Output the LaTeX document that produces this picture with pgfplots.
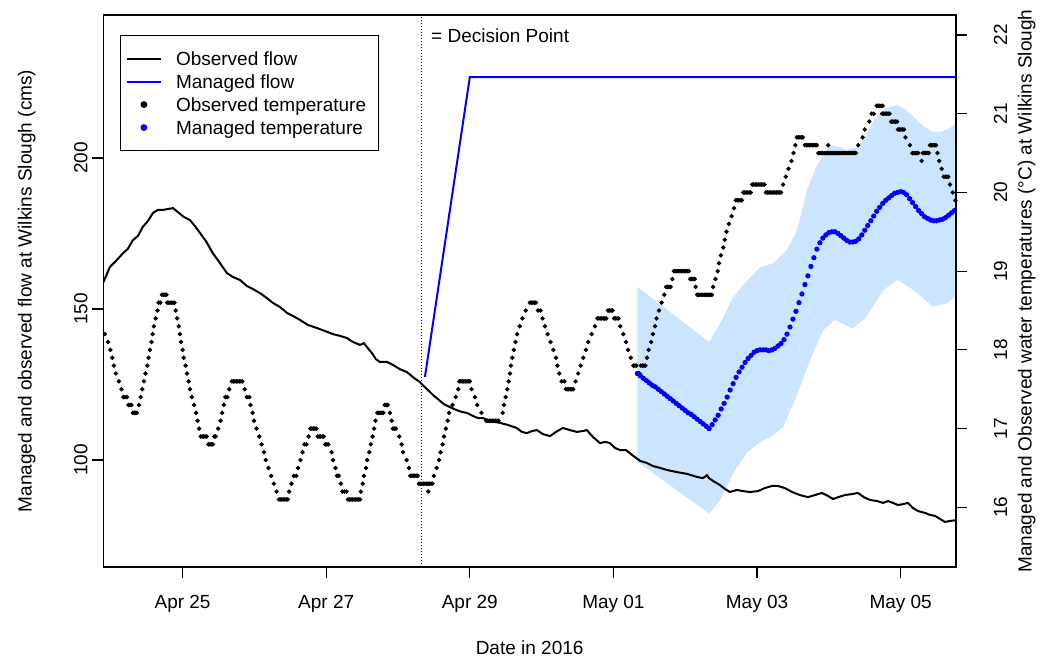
\documentclass[border=0pt]{standalone}
\usepackage{fontspec}
\setmainfont{Liberation Sans}
\usepackage{pgfplots}
\usepackage{pgfplotstable}
\pgfplotsset{compat=1.18}
\definecolor{bandcol}{RGB}{204,229,255}
\definecolor{rblue}{RGB}{0,0,255}

% observed flow (cms), x = hours since 2016-04-25 00:00
\pgfplotstableread{
h Q
-26.6 158.6
-24.3 163.9
-22.0 166.2
-19.9 168.5
-18.3 169.9
-16.6 172.8
-14.9 174.2
-13.3 177.2
-11.6 179.1
-9.9 181.8
-8.3 182.8
-6.6 182.8
-4.9 183.1
-3.2 183.4
-1.6 182.1
0.4 180.5
2.4 179.5
4.1 177.5
5.8 175.2
7.8 172.5
10.1 168.5
12.5 165.2
14.8 161.9
16.8 160.6
19.2 159.6
21.5 157.6
23.5 156.6
25.8 155.3
28.2 153.6
30.2 152.0
32.5 150.7
34.9 148.7
36.9 147.7
39.2 146.4
41.9 144.7
44.9 143.7
47.6 142.7
50.2 141.7
52.6 141.1
54.9 140.4
56.9 139.1
58.6 138.4
59.3 138.1
60.6 138.7
61.6 137.4
63.3 135.4
64.6 133.4
65.9 132.5
68.3 132.5
70.3 131.5
72.6 130.1
75.0 129.1
77.3 127.2
79.3 125.8
81.3 123.8
82.7 122.5
83.7 121.5
85.3 120.2
87.3 118.5
89.4 117.5
91.4 116.6
93.4 115.9
95.0 115.6
97.0 114.6
98.7 113.9
100.4 113.9
102.7 112.9
106.1 112.3
108.7 111.6
111.7 110.6
113.4 109.3
115.1 108.9
116.8 109.6
118.4 109.9
120.4 108.6
122.8 107.9
124.8 109.3
127.1 110.6
129.5 109.9
131.8 109.3
133.8 109.6
135.1 109.9
137.2 107.6
139.5 105.6
141.2 106.0
142.8 105.6
144.5 104.0
146.2 103.3
148.2 103.3
150.2 101.7
152.9 99.7
155.2 99.0
157.2 98.0
159.5 97.4
161.9 96.7
165.2 96.0
168.6 95.4
171.9 94.4
173.9 94.0
175.3 95.0
175.9 94.0
177.9 92.7
179.6 91.7
181.3 90.4
182.9 89.4
185.3 90.1
187.3 89.7
189.6 89.4
192.3 89.7
194.6 90.7
197.0 91.4
199.0 91.4
201.3 90.7
203.7 89.4
206.3 88.4
209.0 87.7
211.4 88.4
213.7 89.1
215.7 88.1
217.4 87.1
219.1 87.7
221.4 88.4
223.7 88.7
225.7 89.1
227.7 87.7
229.7 86.8
232.1 86.4
234.1 85.8
235.8 86.4
237.4 85.8
239.1 85.1
240.8 85.4
242.4 85.8
244.1 84.1
245.8 83.1
248.1 82.5
249.8 81.8
251.5 81.5
253.1 80.5
254.8 79.5
256.5 79.8
258.5 80.1
}\obsflow

% observed water temperature (degC)
\pgfplotstableread{
h T
-26.0 18.2
-24.9 18.1
-24.1 18.0
-23.5 17.9
-23.0 17.8
-22.3 17.7
-21.3 17.6
-20.4 17.5
-19.8 17.4
-19.3 17.4
-18.6 17.4
-18.1 17.3
-17.6 17.3
-17.1 17.3
-16.6 17.2
-16.1 17.2
-15.6 17.2
-15.3 17.2
-14.6 17.3
-14.0 17.4
-13.5 17.5
-12.9 17.6
-12.4 17.7
-11.8 17.8
-11.4 17.9
-10.9 18.0
-10.4 18.1
-10.0 18.2
-9.6 18.3
-9.0 18.4
-8.4 18.5
-8.0 18.6
-7.4 18.6
-6.9 18.7
-6.4 18.7
-5.9 18.7
-5.4 18.7
-5.2 18.6
-4.7 18.6
-4.2 18.6
-3.7 18.6
-3.2 18.6
-2.7 18.6
-2.3 18.5
-1.8 18.4
-1.3 18.3
-0.9 18.2
-0.5 18.1
0.0 18.0
0.4 17.9
1.0 17.8
1.5 17.7
2.0 17.6
2.5 17.5
3.1 17.4
3.8 17.3
4.5 17.2
5.0 17.1
5.5 17.0
6.1 16.9
6.6 16.9
7.1 16.9
7.6 16.9
8.1 16.9
8.6 16.8
9.1 16.8
9.6 16.8
10.1 16.8
10.6 16.9
11.1 16.9
11.9 17.0
12.7 17.1
13.2 17.2
13.8 17.3
14.3 17.4
15.0 17.4
15.6 17.5
16.5 17.6
17.0 17.6
17.5 17.6
18.0 17.6
18.5 17.6
19.0 17.6
19.5 17.6
20.0 17.6
20.8 17.5
21.5 17.4
22.3 17.4
22.7 17.3
23.4 17.2
23.9 17.1
24.7 17.0
25.6 16.9
26.4 16.8
27.2 16.7
27.8 16.6
28.7 16.5
29.6 16.4
30.5 16.3
31.4 16.2
32.2 16.1
32.7 16.1
33.2 16.1
33.7 16.1
34.2 16.1
34.7 16.1
35.2 16.1
35.6 16.2
36.4 16.3
37.2 16.4
38.0 16.4
38.6 16.5
39.4 16.6
40.1 16.7
40.7 16.8
41.4 16.8
42.1 16.9
42.7 17.0
43.2 17.0
43.7 17.0
44.2 17.0
44.7 17.0
45.2 16.9
45.7 16.9
46.2 16.9
46.7 16.9
47.2 16.9
47.7 16.8
48.2 16.8
48.7 16.8
49.8 16.7
50.3 16.6
51.1 16.5
51.6 16.4
52.2 16.4
52.9 16.3
53.4 16.2
54.1 16.2
54.8 16.2
55.3 16.1
55.8 16.1
56.3 16.1
56.8 16.1
57.3 16.1
57.8 16.1
58.3 16.1
58.8 16.1
59.3 16.1
59.6 16.2
60.2 16.3
60.6 16.4
61.3 16.5
61.7 16.6
62.4 16.7
62.9 16.8
63.5 16.9
64.0 17.0
64.5 17.1
65.1 17.2
65.6 17.2
66.1 17.2
66.6 17.2
67.1 17.2
67.6 17.3
68.1 17.3
68.6 17.3
69.3 17.2
69.9 17.1
70.3 17.0
70.8 17.0
71.3 17.0
72.4 16.9
73.2 16.8
73.7 16.7
74.9 16.6
75.7 16.5
76.1 16.4
76.6 16.4
77.1 16.4
77.6 16.4
78.1 16.4
78.6 16.4
79.0 16.3
79.5 16.3
80.0 16.3
80.5 16.3
81.0 16.3
81.5 16.3
82.0 16.3
82.1 16.2
82.5 16.3
83.0 16.3
83.5 16.3
84.0 16.4
84.9 16.5
85.7 16.6
86.2 16.7
86.9 16.8
87.4 16.9
88.0 17.0
88.6 17.1
89.1 17.2
90.2 17.3
91.3 17.4
92.1 17.5
92.5 17.6
93.0 17.6
93.5 17.6
94.0 17.6
94.5 17.6
95.0 17.6
95.5 17.6
96.0 17.6
96.6 17.5
97.7 17.4
98.5 17.3
99.9 17.2
101.5 17.1
102.0 17.1
102.5 17.1
103.0 17.1
103.5 17.1
104.0 17.1
104.6 17.1
105.1 17.1
105.6 17.1
107.0 17.2
107.4 17.3
108.0 17.4
108.5 17.5
109.0 17.6
109.4 17.7
109.7 17.8
110.2 17.9
110.7 18.0
111.3 18.1
111.8 18.2
112.7 18.3
113.6 18.4
114.7 18.5
116.1 18.6
116.6 18.6
117.1 18.6
117.6 18.6
118.1 18.6
118.8 18.5
119.6 18.5
120.3 18.4
121.1 18.3
122.0 18.2
123.0 18.1
123.9 18.0
124.8 17.9
125.3 17.8
125.9 17.7
126.7 17.6
127.6 17.6
128.1 17.5
128.6 17.5
129.1 17.5
129.6 17.5
130.1 17.5
130.6 17.5
131.4 17.6
132.2 17.7
133.0 17.8
133.9 17.9
134.8 18.0
135.6 18.1
136.7 18.2
137.8 18.3
138.6 18.4
139.1 18.4
139.6 18.4
140.1 18.4
140.6 18.4
141.1 18.4
141.6 18.4
142.2 18.5
142.7 18.5
143.2 18.5
143.7 18.5
144.2 18.4
144.7 18.4
145.2 18.4
145.7 18.4
146.3 18.3
147.3 18.2
148.2 18.1
148.9 18.0
149.8 17.9
150.7 17.8
151.2 17.8
151.7 17.8
152.2 17.7
152.7 17.7
153.2 17.8
153.7 17.8
154.2 17.8
154.7 17.8
155.2 17.9
155.8 18.0
156.6 18.1
157.2 18.2
157.9 18.3
158.4 18.4
159.2 18.5
160.1 18.6
161.0 18.7
161.6 18.8
162.1 18.8
162.6 18.8
163.1 18.8
163.7 18.9
164.2 19.0
164.7 19.0
165.2 19.0
165.7 19.0
166.2 19.0
166.7 19.0
167.2 19.0
167.7 19.0
168.2 19.0
168.7 19.0
169.2 19.0
169.7 18.9
170.2 18.9
170.7 18.9
171.2 18.9
171.5 18.8
172.0 18.7
172.4 18.7
172.9 18.7
173.4 18.7
173.9 18.7
174.4 18.7
174.9 18.7
175.4 18.7
175.9 18.7
176.4 18.7
176.9 18.7
177.3 18.8
178.1 18.9
178.8 19.0
179.3 19.1
179.9 19.2
180.7 19.3
181.2 19.4
181.8 19.5
182.6 19.6
183.5 19.7
184.3 19.8
184.9 19.9
185.4 19.9
185.9 19.9
186.4 19.9
186.9 19.9
187.4 20.0
187.9 20.0
188.4 20.0
188.9 20.0
189.4 20.0
189.9 20.0
190.4 20.1
190.9 20.1
191.4 20.1
191.9 20.1
192.4 20.1
193.0 20.1
193.5 20.1
194.0 20.1
194.5 20.1
195.0 20.0
195.5 20.0
196.0 20.0
196.5 20.0
197.0 20.0
197.5 20.0
198.0 20.0
198.5 20.0
199.0 20.0
199.5 20.0
200.0 20.0
200.7 20.1
201.6 20.2
202.5 20.3
203.5 20.4
204.2 20.5
204.8 20.6
205.3 20.7
205.8 20.7
206.3 20.7
206.8 20.7
207.3 20.7
208.0 20.6
208.5 20.6
209.0 20.6
209.5 20.6
210.0 20.6
210.5 20.6
211.0 20.6
211.5 20.6
212.0 20.6
212.5 20.5
213.0 20.5
213.5 20.5
214.0 20.5
214.5 20.5
215.0 20.5
215.5 20.5
216.0 20.5
216.5 20.5
217.0 20.5
217.5 20.5
218.0 20.5
218.5 20.5
219.0 20.5
219.5 20.5
220.0 20.5
220.5 20.5
221.0 20.5
221.5 20.5
222.0 20.5
222.5 20.5
223.0 20.5
223.5 20.5
224.0 20.5
224.5 20.5
225.0 20.5
215.8 20.6
225.8 20.6
227.3 20.7
228.0 20.8
229.5 20.9
230.3 21.0
231.0 21.0
232.0 21.1
232.5 21.1
233.0 21.1
233.5 21.1
234.0 21.1
233.8 21.0
234.3 21.0
234.8 21.0
235.3 21.0
235.8 21.0
236.3 21.0
236.8 20.9
237.3 20.9
237.8 20.9
238.3 20.9
238.8 20.9
239.1 20.8
239.6 20.8
240.1 20.8
240.6 20.8
241.1 20.8
241.6 20.7
243.1 20.6
243.9 20.5
244.4 20.5
244.9 20.5
245.4 20.5
245.9 20.5
247.0 20.4
247.4 20.5
247.9 20.5
248.4 20.5
248.9 20.5
249.4 20.5
249.8 20.6
250.3 20.6
250.8 20.6
251.3 20.6
251.8 20.6
252.3 20.5
252.9 20.4
253.7 20.3
254.4 20.2
254.9 20.2
255.4 20.2
255.9 20.2
256.5 20.1
257.4 20.0
258.3 19.9
}\obstemp

% managed water temperature (degC), hourly
\pgfplotstableread{
h T
152 17.70
153 17.67
154 17.64
155 17.61
156 17.58
157 17.55
158 17.53
159 17.50
160 17.47
161 17.44
162 17.41
163 17.38
164 17.35
165 17.32
166 17.29
167 17.26
168 17.23
169 17.20
170 17.18
171 17.15
172 17.12
173 17.09
174 17.06
175 17.03
176 17.00
177 17.05
178 17.11
179 17.17
180 17.25
181 17.32
182 17.40
183 17.49
184 17.57
185 17.65
186 17.72
187 17.78
188 17.84
189 17.89
190 17.93
191 17.97
192 17.99
193 18.00
194 18.00
195 18.00
196 17.99
197 18.00
198 18.02
199 18.05
200 18.08
201 18.13
202 18.20
203 18.29
204 18.39
205 18.49
206 18.60
207 18.71
208 18.83
209 18.94
210 19.06
211 19.17
212 19.28
213 19.36
214 19.42
215 19.46
216 19.49
217 19.50
218 19.50
219 19.48
220 19.45
221 19.42
222 19.39
223 19.37
224 19.37
225 19.38
226 19.41
227 19.46
228 19.52
229 19.58
230 19.64
231 19.70
232 19.76
233 19.81
234 19.86
235 19.90
236 19.93
237 19.96
238 19.99
239 20.00
240 20.01
241 20.00
242 19.97
243 19.92
244 19.87
245 19.82
246 19.77
247 19.73
248 19.69
249 19.67
250 19.65
251 19.64
252 19.64
253 19.65
254 19.66
255 19.68
256 19.71
257 19.74
258 19.77
}\mantemp

\pgfplotsset{
  base/.style={
    scale only axis, width=426.35pt, height=276pt,
    xmin=-26.5, xmax=258.5,
    tick align=outside, major tick length=5.5pt,
    tick style={black, line width=0.6pt},
    axis line style={black, line width=0.6pt},
    /pgf/number format/assume math mode=true,
    tick label style={font=\fontsize{9.5}{11.4}\selectfont},
    label style={font=\fontsize{9.5}{11.4}\selectfont},
  }
}

\begin{document}
\fontsize{9.5}{11.4}\selectfont
\begin{tikzpicture}
\useasboundingbox (-51.65pt,-45.5pt) rectangle (472.35pt,283.5pt);

% ---------------- temperature axis (right) ----------------
\begin{axis}[base,
  ymin=15.242, ymax=22.254,
  axis x line=none, axis y line*=right,
  y axis line style={-},
  ytick={16,17,18,19,20,21,22},
  yticklabel style={xshift=20pt, rotate=90, anchor=base},
  every axis y label/.style={at={(rel axis cs:1,0.5)}, xshift=37.85pt, rotate=90, anchor=base},
  ylabel={Managed and Observed water temperatures (°C) at Wilkins Slough},
]
\addplot[fill=bandcol, draw=none] coordinates {
(152,18.80) (176,18.10) (179.7,18.34) (184,18.67) (188.7,18.88) (193,19.05)
(197.4,19.10) (202,19.27) (205.4,19.52) (208.7,20.03) (212.1,20.35) (216.5,20.60)
(219.5,20.58) (222,20.54) (225.8,20.58) (229.3,20.80) (232,20.97) (235,21.07)
(238.5,21.11) (241,21.07) (243.6,20.99) (247,20.86) (250.5,20.77) (253.5,20.77)
(256.5,20.82) (258.5,20.88)
(258.5,18.68) (255.3,18.59) (250.8,18.55) (244.2,18.76) (239.1,18.89) (234.1,18.76)
(228.6,18.42) (224.1,18.27) (218,18.38) (214.1,18.25) (209.7,17.87) (205.2,17.41)
(200.7,17.02) (196.8,16.90) (193,16.83) (188.5,16.69) (184,16.43) (179.7,16.09)
(176,15.92) (152,16.58)
} -- cycle;
\addplot[only marks, mark=*, black, mark size=0.9pt, mark options={draw=none, fill=black}]
  table[x=h, y=T] {\obstemp};
\addplot[only marks, mark=*, rblue, mark size=1.1pt, mark options={draw=none, fill=rblue}]
  table[x=h, y=T] {\mantemp};
\end{axis}

% ---------------- flow axis (left) ----------------
\begin{axis}[base,
  ymin=64.57, ymax=247.35,
  xtick={0,48,96,144,192,240},
  xticklabels={Apr 25,Apr 27,Apr 29,May 01,May 03,May 05},
  ytick={100,150,200},
  xtick pos=left, ytick pos=left,
  xticklabel style={anchor=base, yshift=-15.35pt},
  yticklabel style={xshift=-2.5pt, rotate=90, anchor=base},
  every axis x label/.style={at={(rel axis cs:0.5,0)}, yshift=-43.9pt, anchor=base},
  every axis y label/.style={at={(rel axis cs:0,0.5)}, xshift=-35.8pt, rotate=90, anchor=base},
  xlabel={Date in 2016},
  ylabel={Managed and observed flow at Wilkins Slough (cms)},
  legend style={at={(0.0199,0.9638)}, anchor=north west,
    draw=black, line width=0.6pt, fill=white,
    inner xsep=2.5pt, inner ysep=6.85pt,
    row sep=2.2pt, column sep=7pt,
    nodes={inner sep=0pt, text height=8pt, text depth=1.3pt},
    font=\fontsize{9.5}{11.4}\selectfont},
  legend cell align=left,
]
\addplot[black, line width=1pt] table[x=h, y=Q] {\obsflow};
\addlegendentry{Observed flow}
\addplot[rblue, line width=1pt] coordinates {(81,127.5) (96,226.8) (258.5,226.8)};
\addlegendentry{Managed flow}
\addlegendimage{only marks, mark=*, black, mark size=1.4pt, mark options={draw=none, fill=black}}
\addlegendentry{Observed temperature\hspace*{3.5pt}}
\addlegendimage{only marks, mark=*, rblue, mark size=1.4pt, mark options={draw=none, fill=rblue}}
\addlegendentry{Managed temperature}
\addplot[black, line width=0.5pt, dash pattern=on 0.5pt off 1pt, forget plot]
  coordinates {(80,64.57) (80,247.35)};
\node[anchor=base west, inner sep=0pt, xshift=4.45pt] at (axis cs:80,238.1) {= Decision Point};
\end{axis}
\end{tikzpicture}
\end{document}
